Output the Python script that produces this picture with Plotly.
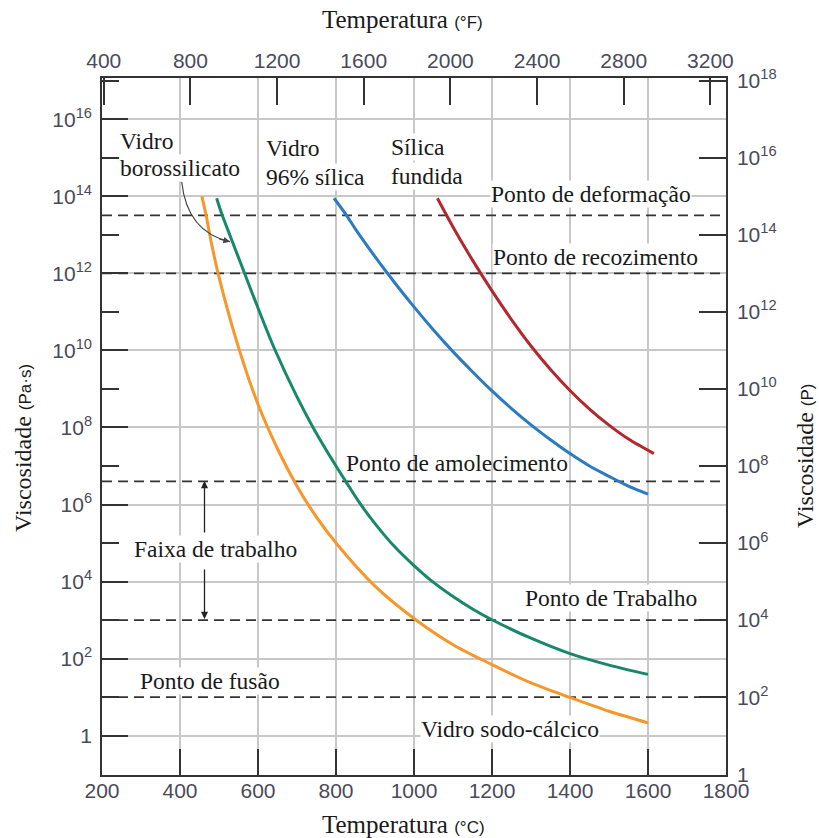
import plotly.graph_objects as go

# ---------------- data ----------------
# Vidro sodo-cálcico (soda-lime glass)
temp_soda = [456, 467, 480, 500, 550, 600, 650, 700, 750, 800, 900, 1000, 1100, 1200, 1300,
             1400, 1500, 1600]
visc_soda = [1e14, 3.2e13, 6.5e12, 8e11, 1.2e10, 4e8, 2.8e7, 3e6, 4.7e5, 1e5, 7.6e3, 1.1e3,
             2.3e2, 70, 23.4, 9.8, 4.3, 2.15]
# Vidro borossilicato
temp_boro = [494, 507, 540, 564, 600, 642, 700, 744, 800, 825, 862, 900, 950, 1000, 1050,
             1100, 1150, 1200, 1300, 1400, 1500, 1600]
visc_boro = [8.9e13, 3.5e13, 4.7e12, 1.1e12, 1.26e11, 1.12e10, 6.2e8, 8.9e7, 1e7, 4e6,
             1.05e6, 3.2e5, 8.1e4, 2.6e4, 9.5e3, 4.1e3, 1.95e3, 1.02e3, 339, 135, 68, 39]
# Vidro 96% sílica
temp_96 = [795, 827, 850, 900, 950, 1000, 1050, 1100, 1150, 1200, 1250, 1300, 1350, 1400,
           1450, 1500, 1550, 1600]
visc_96 = [8.9e13, 3.2e13, 1.4e13, 2.7e12, 5.8e11, 1.35e11, 3.4e10, 9.3e9, 2.8e9, 8.9e8,
           3.1e8, 1.17e8, 4.8e7, 2.1e7, 1.0e7, 5.4e6, 3.0e6, 1.86e6]
# Sílica fundida
temp_fused = [1060, 1100, 1150, 1200, 1250, 1300, 1350, 1400, 1450, 1500, 1550, 1615]
visc_fused = [8.9e13, 1.6e13, 2.2e12, 3.5e11, 6.3e10, 1.3e10, 3.2e9, 9.1e8, 3.0e8, 1.15e8,
              5.0e7, 2.1e7]

# reference viscosity levels (Pa·s)
ref_names = ["Ponto de deformação", "Ponto de recozimento", "Ponto de amolecimento",
             "Ponto de Trabalho", "Ponto de fusão"]
ref_visc = [3.2e13, 1e12, 4e6, 1e3, 1e1]

# axis ticks
celsius_ticks = [200, 400, 600, 800, 1000, 1200, 1400, 1600, 1800]
fahrenheit_ticks = [400, 800, 1200, 1600, 2000, 2400, 2800, 3200]
pas_exponents = [0, 2, 4, 6, 8, 10, 12, 14, 16]
pas_minor_exponents = [-1, 1, 3, 5, 7, 9, 11, 13, 15, 17]
poise_exponents = [0, 2, 4, 6, 8, 10, 12, 14, 16, 18]

# ---------------- styling / geometry ----------------
W, H = 819, 838
L, R, T, B = 102, 93, 78, 63
PW, PH = W - L - R, H - T - B
SERIF = "Liberation Serif"
SANS = "Liberation Sans"
TXT = "#1a1a1a"
TICKC = "#4a4a5a"
AXC = "#333333"
GRID = "#c8c8c8"


def px_x(px):
    return (px - L) / PW


def px_y(py):
    return (H - B - py) / PH


def exp_label(k):
    return "1" if k == 0 else f"10<sup>{k}</sup>"


xmin, xmax = 200, 1800
ylog_min, ylog_max = -1.02, 17.07

fig = go.Figure()

# reference dashed levels
for name, v in zip(ref_names, ref_visc):
    fig.add_trace(go.Scatter(x=[xmin, xmax], y=[v, v], mode="lines",
                             line=dict(color=AXC, width=1.6, dash="10px,6px"),
                             hoverinfo="skip", showlegend=False, name=name))

curves = [
    (temp_soda, visc_soda, "#F7962A", "Vidro sodo-cálcico"),
    (temp_boro, visc_boro, "#17896A", "Vidro borossilicato"),
    (temp_96, visc_96, "#2B7BC2", "Vidro 96% sílica"),
    (temp_fused, visc_fused, "#B2282E", "Sílica fundida"),
]
for xs, ys, col, name in curves:
    fig.add_trace(go.Scatter(x=xs, y=ys, mode="lines", name=name,
                             line=dict(color=col, width=3, shape="spline", smoothing=0.8),
                             showlegend=False))

# invisible trace to activate the secondary axes
fig.add_trace(go.Scatter(x=[1000], y=[1e5], xaxis="x2", yaxis="y2", mode="markers",
                         marker=dict(opacity=0), hoverinfo="skip", showlegend=False))

tickfont = dict(family=SANS, size=21, color=TICKC)
common = dict(showline=True, linecolor=AXC, linewidth=1.5, ticks="inside",
              tickcolor=AXC, tickwidth=1.5, zeroline=False, tickfont=tickfont)

fig.update_layout(
    width=W, height=H, autosize=False,
    margin=dict(l=L, r=R, t=T, b=B),
    paper_bgcolor="white", plot_bgcolor="white",
    showlegend=False,
    xaxis=dict(range=[xmin, xmax], tickvals=celsius_ticks, ticklen=26,
               showgrid=True, gridcolor=GRID, gridwidth=1.5, ticklabelstandoff=-4,
               **common),
    xaxis2=dict(overlaying="x", side="top", range=[xmin * 9 / 5 + 32, xmax * 9 / 5 + 32],
                tickvals=fahrenheit_ticks, ticklen=27, showgrid=False, **common),
    yaxis=dict(type="log", range=[ylog_min, ylog_max],
               tickvals=[10.0 ** k for k in pas_exponents],
               ticktext=[exp_label(k) for k in pas_exponents],
               ticklen=26, showgrid=True, gridcolor=GRID, gridwidth=1.5,
               ticklabelstandoff=4,
               minor=dict(tickvals=[10.0 ** k for k in pas_minor_exponents], ticklen=17,
                          ticks="inside", tickcolor=AXC, tickwidth=1.5, showgrid=False),
               **common),
    yaxis2=dict(type="log", overlaying="y", side="right",
                range=[ylog_min + 1, ylog_max + 1],
                tickvals=[10.0 ** k for k in poise_exponents],
                ticktext=[exp_label(k) for k in poise_exponents],
                ticklen=27, showgrid=False, ticklabelstandoff=5, **common),
)

# text labels (left edge px, centre px, white box?)
labels = [
    ("Vidro", 119, 141, True),
    ("borossilicato", 119, 168, True),
    ("Vidro", 265, 148, True),
    ("96% sílica", 265, 177, True),
    ("Sílica", 390, 147, True),
    ("fundida", 390, 176, True),
    ("Ponto de deformação", 490, 194, True),
    ("Ponto de recozimento", 492, 257, True),
    ("Ponto de amolecimento", 345, 463, False),
    ("Ponto de Trabalho", 524, 598, True),
    ("Faixa de trabalho", 133, 549, True),
    ("Ponto de fusão", 139, 681, True),
    ("Vidro sodo-cálcico", 420, 729, True),
]
for text, lx, cy, boxed in labels:
    fig.add_annotation(text=text, x=px_x(lx), y=px_y(cy), xref="paper", yref="paper",
                       xanchor="left", yanchor="middle", showarrow=False,
                       font=dict(family=SERIF, size=23.5, color=TXT),
                       bgcolor="white" if boxed else "rgba(0,0,0,0)", borderpad=0)

# axis titles
small = f"<span style='font-family:{SANS};font-size:17px'>"
title_kw = dict(xref="paper", yref="paper", showarrow=False, xanchor="center",
                yanchor="middle")
fig.add_annotation(text=f"Temperatura {small}(°F)</span>", x=px_x(402), y=px_y(20),
                   font=dict(family=SERIF, size=25, color=TXT), **title_kw)
fig.add_annotation(text=f"Temperatura {small}(°C)</span>", x=px_x(403), y=px_y(824),
                   font=dict(family=SERIF, size=25, color=TXT), **title_kw)
fig.add_annotation(text=f"Viscosidade {small}(Pa·s)</span>", x=px_x(23), y=px_y(448),
                   textangle=-90, font=dict(family=SERIF, size=24, color=TXT), **title_kw)
fig.add_annotation(text=f"Viscosidade {small}(P)</span>", x=px_x(805), y=px_y(456),
                   textangle=-90, font=dict(family=SERIF, size=24, color=TXT), **title_kw)

# working-range arrows
fig.add_annotation(x=px_x(204.5), y=px_y(481), xref="paper", yref="paper", text="",
                   showarrow=True, ax=0, ay=53, arrowhead=2, arrowsize=1.1,
                   arrowwidth=1.3, arrowcolor="#222")
fig.add_annotation(x=px_x(204.5), y=px_y(619), xref="paper", yref="paper", text="",
                   showarrow=True, ax=0, ay=-51, arrowhead=2, arrowsize=1.1,
                   arrowwidth=1.3, arrowcolor="#222")

# curved pointer for borosilicate
p0, c, p2 = (181.7, 181.7), (187, 232), (230, 241.7)
fig.add_shape(type="path", xref="paper", yref="paper",
              path=(f"M {px_x(p0[0])} {px_y(p0[1])} Q {px_x(c[0])} {px_y(c[1])} "
                    f"{px_x(p2[0])} {px_y(p2[1])}"),
              line=dict(color="#444", width=1.2))
fig.add_annotation(x=px_x(p2[0]), y=px_y(p2[1]), xref="paper", yref="paper", text="",
                   showarrow=True, ax=-12, ay=-3, arrowhead=2, arrowsize=1.1,
                   arrowwidth=1.2, arrowcolor="#444")

fig.write_html("out.html")
